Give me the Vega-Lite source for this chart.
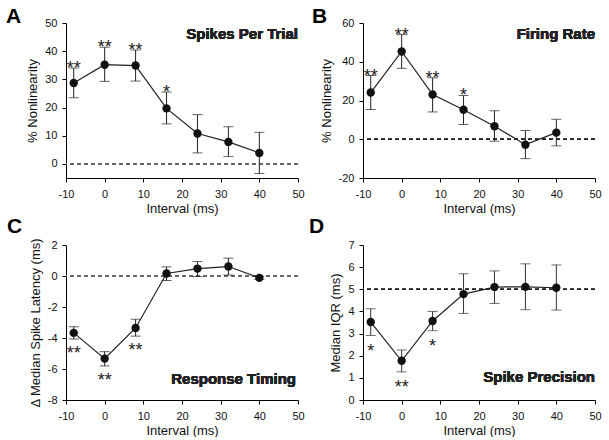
{
  "$schema": "https://vega.github.io/schema/vega-lite/v6.json",
  "padding": {"left": 6, "top": 6, "right": 5, "bottom": 0},
  "background": "white",
  "config": {
    "font": "Liberation Sans",
    "view": {"stroke": null},
    "axis": {"grid": false, "labelOverlap": false, "labelFlush": false, "tickCount": 12, "labelExpr": "'' + datum.value", "domainColor": "black", "tickColor": "black", "labelColor": "#111", "titleColor": "#111", "labelFontSize": 11, "titleFontSize": 13, "titleFontWeight": "normal", "tickSize": 4, "titlePadding": 4, "domainWidth": 1, "tickWidth": 1},
    "axisX": {"labelPadding": 6, "titlePadding": 3},
    "axisY": {"labelPadding": 5, "titlePadding": 5},
    "title": {"color": "black"}
  },
  "datasets": {
    "A": [
      {"interval": -8, "mean": 28.7, "lo": 23.5, "hi": 34.0, "sig": "**"},
      {"interval": 0, "mean": 35.2, "lo": 29.3, "hi": 41.4, "sig": "**"},
      {"interval": 8, "mean": 34.9, "lo": 29.4, "hi": 40.4, "sig": "**"},
      {"interval": 16, "mean": 19.7, "lo": 14.2, "hi": 25.5, "sig": "*"},
      {"interval": 24, "mean": 10.8, "lo": 3.9, "hi": 17.5, "sig": ""},
      {"interval": 32, "mean": 7.8, "lo": 2.6, "hi": 13.2, "sig": ""},
      {"interval": 40, "mean": 3.9, "lo": -3.4, "hi": 11.2, "sig": ""}
    ],
    "B": [
      {"interval": -8, "mean": 24.1, "lo": 15.3, "hi": 32.9, "sig": "**"},
      {"interval": 0, "mean": 45.3, "lo": 36.6, "hi": 54.0, "sig": "**"},
      {"interval": 8, "mean": 23.1, "lo": 14.1, "hi": 31.7, "sig": "**"},
      {"interval": 16, "mean": 15.2, "lo": 7.6, "hi": 22.6, "sig": "*"},
      {"interval": 24, "mean": 6.7, "lo": -1.0, "hi": 14.7, "sig": ""},
      {"interval": 32, "mean": -2.8, "lo": -10.0, "hi": 4.5, "sig": ""},
      {"interval": 40, "mean": 3.4, "lo": -3.4, "hi": 10.3, "sig": ""}
    ],
    "C": [
      {"interval": -8, "mean": -3.67, "lo": -4.07, "hi": -3.28, "sig": "**"},
      {"interval": 0, "mean": -5.33, "lo": -5.8, "hi": -4.88, "sig": "**"},
      {"interval": 8, "mean": -3.35, "lo": -3.88, "hi": -2.79, "sig": "**"},
      {"interval": 16, "mean": 0.16, "lo": -0.29, "hi": 0.59, "sig": ""},
      {"interval": 24, "mean": 0.48, "lo": -0.03, "hi": 0.93, "sig": ""},
      {"interval": 32, "mean": 0.61, "lo": 0.06, "hi": 1.15, "sig": ""},
      {"interval": 40, "mean": -0.12, "lo": -0.22, "hi": -0.03, "sig": ""}
    ],
    "D": [
      {"interval": -8, "mean": 3.52, "lo": 2.91, "hi": 4.12, "sig": "*"},
      {"interval": 0, "mean": 1.77, "lo": 1.27, "hi": 2.26, "sig": "**"},
      {"interval": 8, "mean": 3.57, "lo": 3.13, "hi": 4.0, "sig": "*"},
      {"interval": 16, "mean": 4.78, "lo": 3.91, "hi": 5.7, "sig": ""},
      {"interval": 24, "mean": 5.1, "lo": 4.36, "hi": 5.83, "sig": ""},
      {"interval": 32, "mean": 5.11, "lo": 4.08, "hi": 6.15, "sig": ""},
      {"interval": 40, "mean": 5.07, "lo": 4.06, "hi": 6.1, "sig": ""}
    ]
  },
  "columns": 2,
  "bounds": "flush",
  "spacing": {"column": 65, "row": 67},
  "concat": [
    {
      "width": 232, "height": 155,
      "data": {"name": "A"},
      "title": {"text": "A", "anchor": "start", "frame": "group", "fontSize": 21, "fontWeight": "bold", "baseline": "alphabetic", "dx": -60, "offset": -27},
      "layer": [
        {"mark": {"type": "rule", "strokeDash": [4, 3], "color": "#666", "strokeWidth": 1}, "encoding": {"y": {"datum": 0, "type": "quantitative", "title": "% Nonlinearity", "scale": {"domain": [-5, 50], "nice": false}, "axis": {"values": [0, 10, 20, 30, 40, 50], "tickCount": 12}}}},
        {"mark": {"type": "errorbar", "color": "#222", "thickness": 1, "ticks": {"size": 10}}, "encoding": {"x": {"field": "interval", "type": "quantitative", "title": "Interval (ms)", "scale": {"domain": [-10, 50], "nice": false}, "axis": {"values": [-10, 0, 10, 20, 30, 40, 50], "tickCount": 12}}, "y": {"field": "lo", "type": "quantitative", "title": "% Nonlinearity"}, "y2": {"field": "hi"}}},
        {"mark": {"type": "line", "color": "#222", "strokeWidth": 1.2}, "encoding": {"x": {"field": "interval", "type": "quantitative", "title": "Interval (ms)"}, "y": {"field": "mean", "type": "quantitative", "title": "% Nonlinearity"}}},
        {"mark": {"type": "point", "filled": true, "color": "#111", "size": 70, "opacity": 1}, "encoding": {"x": {"field": "interval", "type": "quantitative", "title": "Interval (ms)"}, "y": {"field": "mean", "type": "quantitative", "title": "% Nonlinearity"}}},
        {"mark": {"type": "text", "fontSize": 18, "baseline": "alphabetic", "dy": 6, "color": "#222"}, "encoding": {"x": {"field": "interval", "type": "quantitative", "title": "Interval (ms)"}, "y": {"field": "hi", "type": "quantitative", "title": "% Nonlinearity"}, "text": {"field": "sig"}}},
        {"mark": {"type": "text", "fontSize": 15, "fontWeight": "bold", "align": "right", "baseline": "alphabetic", "color": "#222"}, "encoding": {"x": {"datum": 50, "type": "quantitative"}, "y": {"datum": 44.3, "type": "quantitative"}, "text": {"value": "Spikes Per Trial"}}}
      ]
    },
    {
      "width": 232, "height": 155,
      "data": {"name": "B"},
      "title": {"text": "B", "anchor": "start", "frame": "group", "fontSize": 21, "fontWeight": "bold", "baseline": "alphabetic", "dx": -51, "offset": -27},
      "layer": [
        {"mark": {"type": "rule", "strokeDash": [4, 3], "color": "#222", "strokeWidth": 1}, "encoding": {"y": {"datum": 0, "type": "quantitative", "title": "% Nonlinearity", "scale": {"domain": [-20, 60], "nice": false}, "axis": {"values": [-20, 0, 20, 40, 60], "tickCount": 12}}}},
        {"mark": {"type": "errorbar", "color": "#222", "thickness": 1, "ticks": {"size": 10}}, "encoding": {"x": {"field": "interval", "type": "quantitative", "title": "Interval (ms)", "scale": {"domain": [-10, 50], "nice": false}, "axis": {"values": [-10, 0, 10, 20, 30, 40, 50], "tickCount": 12}}, "y": {"field": "lo", "type": "quantitative", "title": "% Nonlinearity"}, "y2": {"field": "hi"}}},
        {"mark": {"type": "line", "color": "#222", "strokeWidth": 1.2}, "encoding": {"x": {"field": "interval", "type": "quantitative", "title": "Interval (ms)"}, "y": {"field": "mean", "type": "quantitative", "title": "% Nonlinearity"}}},
        {"mark": {"type": "point", "filled": true, "color": "#111", "size": 70, "opacity": 1}, "encoding": {"x": {"field": "interval", "type": "quantitative", "title": "Interval (ms)"}, "y": {"field": "mean", "type": "quantitative", "title": "% Nonlinearity"}}},
        {"mark": {"type": "text", "fontSize": 18, "baseline": "alphabetic", "dy": 6, "color": "#222"}, "encoding": {"x": {"field": "interval", "type": "quantitative", "title": "Interval (ms)"}, "y": {"field": "hi", "type": "quantitative", "title": "% Nonlinearity"}, "text": {"field": "sig"}}},
        {"mark": {"type": "text", "fontSize": 15, "fontWeight": "bold", "align": "right", "baseline": "alphabetic", "color": "#222"}, "encoding": {"x": {"datum": 50, "type": "quantitative"}, "y": {"datum": 51.7, "type": "quantitative"}, "text": {"value": "Firing Rate"}}}
      ]
    },
    {
      "width": 232, "height": 155,
      "data": {"name": "C"},
      "title": {"text": "C", "anchor": "start", "frame": "group", "fontSize": 21, "fontWeight": "bold", "baseline": "alphabetic", "dx": -59, "offset": -16},
      "layer": [
        {"mark": {"type": "rule", "strokeDash": [4, 3], "color": "#666", "strokeWidth": 1}, "encoding": {"y": {"datum": 0, "type": "quantitative", "title": "Δ Median Spike Latency (ms)", "scale": {"domain": [-8, 2], "nice": false}, "axis": {"values": [-8, -6, -4, -2, 0, 2], "tickCount": 12}}}},
        {"mark": {"type": "errorbar", "color": "#222", "thickness": 1, "ticks": {"size": 10}}, "encoding": {"x": {"field": "interval", "type": "quantitative", "title": "Interval (ms)", "scale": {"domain": [-10, 50], "nice": false}, "axis": {"values": [-10, 0, 10, 20, 30, 40, 50], "tickCount": 12}}, "y": {"field": "lo", "type": "quantitative", "title": "Δ Median Spike Latency (ms)"}, "y2": {"field": "hi"}}},
        {"mark": {"type": "line", "color": "#222", "strokeWidth": 1.2}, "encoding": {"x": {"field": "interval", "type": "quantitative", "title": "Interval (ms)"}, "y": {"field": "mean", "type": "quantitative", "title": "Δ Median Spike Latency (ms)"}}},
        {"mark": {"type": "point", "filled": true, "color": "#111", "size": 70, "opacity": 1}, "encoding": {"x": {"field": "interval", "type": "quantitative", "title": "Interval (ms)"}, "y": {"field": "mean", "type": "quantitative", "title": "Δ Median Spike Latency (ms)"}}},
        {"mark": {"type": "text", "fontSize": 18, "baseline": "alphabetic", "dy": 20, "color": "#222"}, "encoding": {"x": {"field": "interval", "type": "quantitative", "title": "Interval (ms)"}, "y": {"field": "lo", "type": "quantitative", "title": "Δ Median Spike Latency (ms)"}, "text": {"field": "sig"}}},
        {"mark": {"type": "text", "fontSize": 15, "fontWeight": "bold", "align": "right", "baseline": "alphabetic", "dx": -2, "color": "#222"}, "encoding": {"x": {"datum": 50, "type": "quantitative"}, "y": {"datum": -6.97, "type": "quantitative"}, "text": {"value": "Response Timing"}}}
      ]
    },
    {
      "width": 232, "height": 155,
      "data": {"name": "D"},
      "title": {"text": "D", "anchor": "start", "frame": "group", "fontSize": 21, "fontWeight": "bold", "baseline": "alphabetic", "dx": -54, "offset": -15},
      "layer": [
        {"mark": {"type": "rule", "strokeDash": [4, 3], "color": "#222", "strokeWidth": 1}, "encoding": {"y": {"datum": 5, "type": "quantitative", "title": "Median IQR (ms)", "scale": {"domain": [0, 7], "nice": false}, "axis": {"values": [0, 1, 2, 3, 4, 5, 6, 7], "tickCount": 12}}}},
        {"mark": {"type": "errorbar", "color": "#333", "thickness": 1, "ticks": {"size": 10}}, "encoding": {"x": {"field": "interval", "type": "quantitative", "title": "Interval (ms)", "scale": {"domain": [-10, 50], "nice": false}, "axis": {"values": [-10, 0, 10, 20, 30, 40, 50], "tickCount": 12}}, "y": {"field": "lo", "type": "quantitative", "title": "Median IQR (ms)"}, "y2": {"field": "hi"}}},
        {"mark": {"type": "line", "color": "#222", "strokeWidth": 1.2}, "encoding": {"x": {"field": "interval", "type": "quantitative", "title": "Interval (ms)"}, "y": {"field": "mean", "type": "quantitative", "title": "Median IQR (ms)"}}},
        {"mark": {"type": "point", "filled": true, "color": "#111", "size": 70, "opacity": 1}, "encoding": {"x": {"field": "interval", "type": "quantitative", "title": "Interval (ms)"}, "y": {"field": "mean", "type": "quantitative", "title": "Median IQR (ms)"}}},
        {"mark": {"type": "text", "fontSize": 18, "baseline": "alphabetic", "dy": 21, "color": "#222"}, "encoding": {"x": {"field": "interval", "type": "quantitative", "title": "Interval (ms)"}, "y": {"field": "lo", "type": "quantitative", "title": "Median IQR (ms)"}, "text": {"field": "sig"}}},
        {"mark": {"type": "text", "fontSize": 15, "fontWeight": "bold", "align": "right", "baseline": "alphabetic", "color": "#222"}, "encoding": {"x": {"datum": 50, "type": "quantitative"}, "y": {"datum": 0.81, "type": "quantitative"}, "text": {"value": "Spike Precision"}}}
      ]
    }
  ]
}
